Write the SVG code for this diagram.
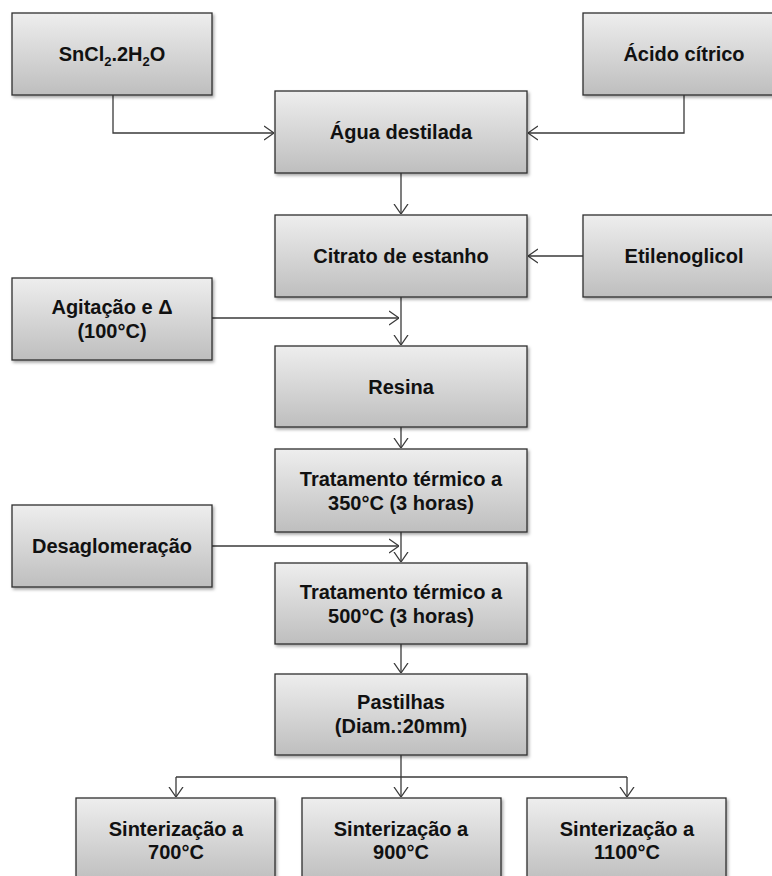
<svg xmlns="http://www.w3.org/2000/svg" width="772" height="876" viewBox="0 0 772 876">
<defs>
<linearGradient id="g" x1="0" y1="0" x2="0" y2="1">
<stop offset="0" stop-color="#eeeeee"/>
<stop offset="1" stop-color="#bebebe"/>
</linearGradient>
<filter id="sh" x="-10%" y="-10%" width="125%" height="130%">
<feDropShadow dx="1.5" dy="2" stdDeviation="1.5" flood-color="#000" flood-opacity="0.35"/>
</filter>
<marker id="ar" viewBox="0 0 10 16" refX="10" refY="8" markerWidth="10" markerHeight="16" markerUnits="userSpaceOnUse" orient="auto">
<path d="M0 1 L10 8 L0 15" fill="none" stroke="#3a3a3a" stroke-width="1.3"/>
</marker>
<style>
.b{fill:url(#g);stroke:#2e2e2e;stroke-width:1.3;filter:url(#sh)}
.t{font-family:"Liberation Sans",Arial,sans-serif;font-weight:bold;font-size:20px;fill:#111;text-anchor:middle}
.c{fill:none;stroke:#3a3a3a;stroke-width:1.3;marker-end:url(#ar)}
.p{fill:none;stroke:#3a3a3a;stroke-width:1.3}
</style>
</defs>
<g id="connectors">
<path class="c" d="M113 95 V133 H274"/>
<path class="c" d="M684 95 V133 H528"/>
<path class="c" d="M401 173 V214"/>
<path class="c" d="M583 256 H528"/>
<path class="c" d="M401 297 V345"/>
<path class="c" d="M212 318 H399"/>
<path class="c" d="M401 427 V448"/>
<path class="c" d="M401 532 V562"/>
<path class="c" d="M212 546 H399"/>
<path class="c" d="M401 644 V673"/>
<path class="c" d="M401 755 V797"/>
<path class="p" d="M176 777 H627"/>
<path class="c" d="M176 777 V797"/>
<path class="c" d="M627 777 V797"/>
</g>
<g id="sncl2">
<rect class="b" x="12" y="13" width="200" height="82"/>
<text class="t" x="112" y="61">SnCl<tspan font-size="13" dy="5">2</tspan><tspan dy="-5">.2H</tspan><tspan font-size="13" dy="5">2</tspan><tspan dy="-5">O</tspan></text>
</g>
<g id="acido">
<rect class="b" x="583" y="13" width="202" height="82"/>
<text class="t" x="684" y="61">Ácido cítrico</text>
</g>
<g id="agua">
<rect class="b" x="275" y="91" width="252" height="82"/>
<text class="t" x="401" y="139">Água destilada</text>
</g>
<g id="citrato">
<rect class="b" x="275" y="215" width="252" height="82"/>
<text class="t" x="401" y="263">Citrato de estanho</text>
</g>
<g id="etilenoglicol">
<rect class="b" x="583" y="215" width="202" height="82"/>
<text class="t" x="684" y="263">Etilenoglicol</text>
</g>
<g id="agitacao">
<rect class="b" x="12" y="278" width="200" height="82"/>
<text class="t" x="112" y="314">Agitação e Δ</text>
<text class="t" x="112" y="338">(100°C)</text>
</g>
<g id="resina">
<rect class="b" x="275" y="346" width="252" height="81"/>
<text class="t" x="401" y="394">Resina</text>
</g>
<g id="trat350">
<rect class="b" x="275" y="449" width="252" height="83"/>
<text class="t" x="401" y="486">Tratamento térmico a</text>
<text class="t" x="401" y="510">350°C (3 horas)</text>
</g>
<g id="desaglomeracao">
<rect class="b" x="12" y="505" width="200" height="82"/>
<text class="t" x="112" y="553">Desaglomeração</text>
</g>
<g id="trat500">
<rect class="b" x="275" y="563" width="252" height="81"/>
<text class="t" x="401" y="599">Tratamento térmico a</text>
<text class="t" x="401" y="623">500°C (3 horas)</text>
</g>
<g id="pastilhas">
<rect class="b" x="275" y="674" width="252" height="81"/>
<text class="t" x="401" y="709">Pastilhas</text>
<text class="t" x="401" y="733">(Diam.:20mm)</text>
</g>
<g id="sint700">
<rect class="b" x="76" y="798" width="199" height="84"/>
<text class="t" x="176" y="836">Sinterização a</text>
<text class="t" x="176" y="859">700°C</text>
</g>
<g id="sint900">
<rect class="b" x="302" y="798" width="199" height="84"/>
<text class="t" x="401" y="836">Sinterização a</text>
<text class="t" x="401" y="859">900°C</text>
</g>
<g id="sint1100">
<rect class="b" x="527" y="798" width="199" height="84"/>
<text class="t" x="627" y="836">Sinterização a</text>
<text class="t" x="627" y="859">1100°C</text>
</g>
</svg>
